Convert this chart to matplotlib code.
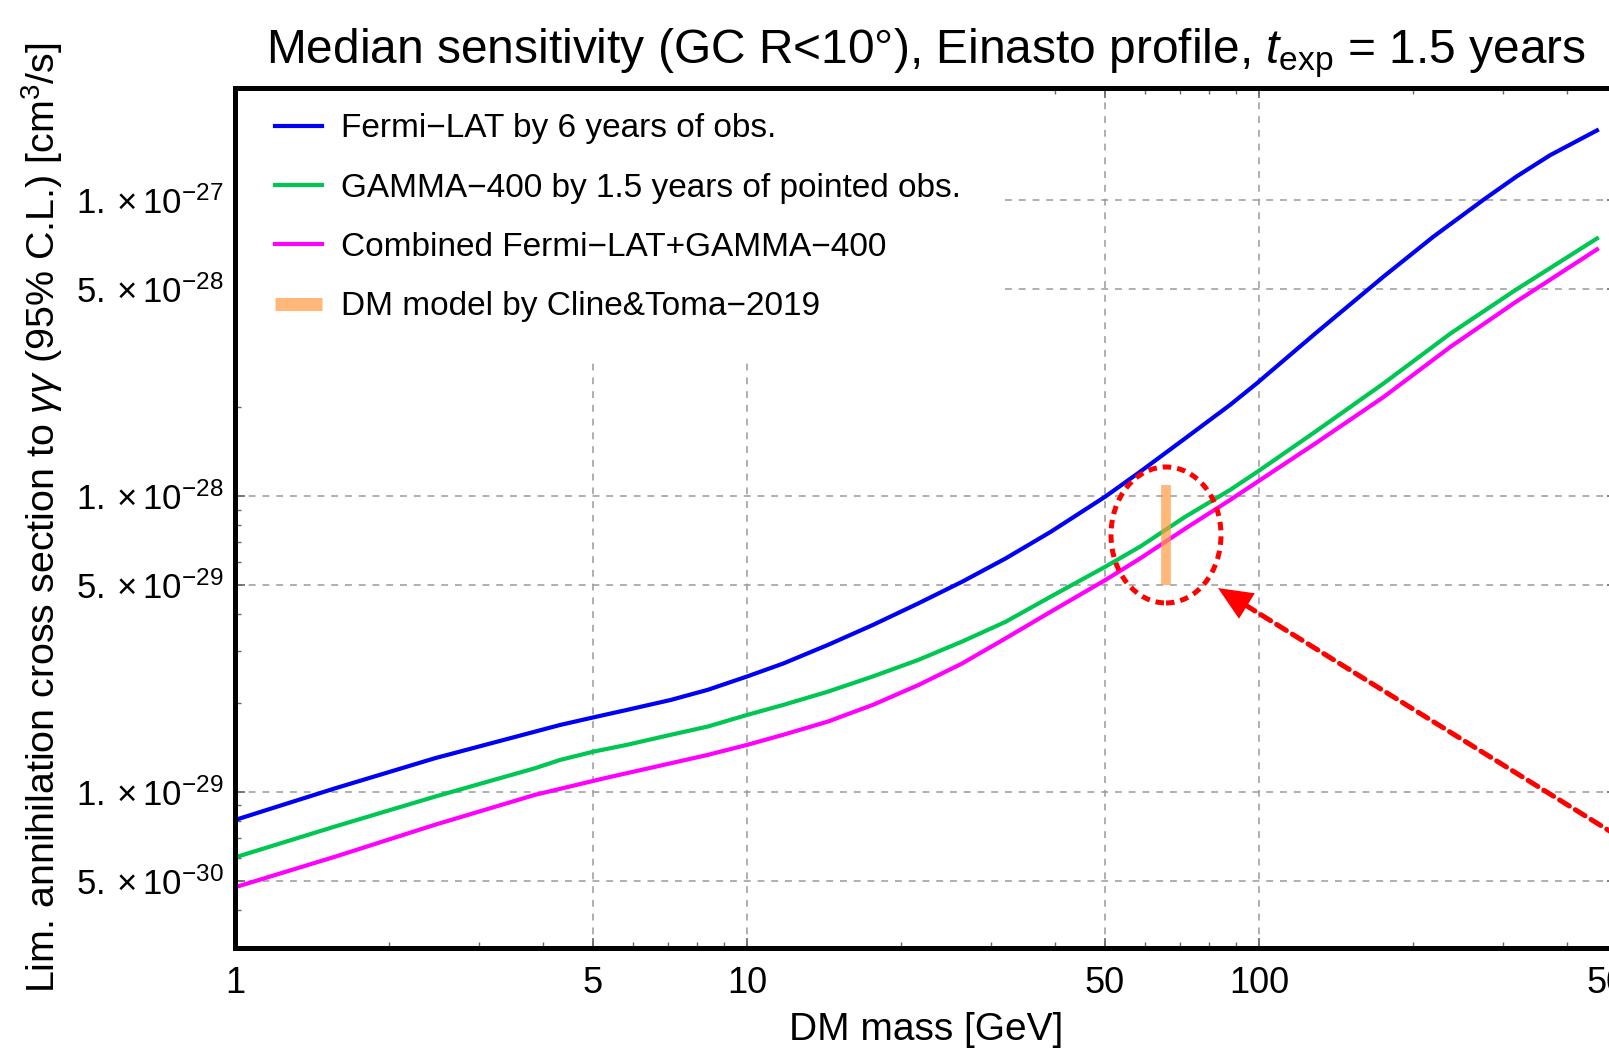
import numpy as np
import matplotlib
matplotlib.use("Agg")
import matplotlib.pyplot as plt
from matplotlib.patches import Ellipse
from matplotlib.ticker import LogLocator, NullFormatter
from matplotlib.transforms import ScaledTranslation, offset_copy

plt.rcParams['font.family'] = ['Liberation Sans', 'DejaVu Sans']
plt.rcParams['mathtext.fontset'] = 'custom'
plt.rcParams['mathtext.rm'] = 'Liberation Sans'
plt.rcParams['mathtext.it'] = 'Liberation Sans:italic'

# DM mass [GeV] and 95% C.L. limits [cm^3/s]
fermi_mass = [1.0, 1.567, 2.457, 4.31, 5.01, 5.82, 7.10, 8.38, 10.0, 11.77, 14.4, 17.6,
              21.6, 26.3, 32.0, 39.2, 50.1, 58.6, 71.8, 87.7, 98.9, 129.0, 175.0,
              219.0, 274.0, 318.0, 370.0, 457.0]
fermi_sigma = [8.04e-30, 1.028e-29, 1.300e-29, 1.683e-29, 1.786e-29, 1.892e-29, 2.046e-29,
               2.213e-29, 2.455e-29, 2.716e-29, 3.141e-29, 3.664e-29, 4.335e-29, 5.129e-29,
               6.152e-29, 7.568e-29, 9.954e-29, 1.208e-28, 1.567e-28, 2.028e-28, 2.399e-28,
               3.548e-28, 5.508e-28, 7.516e-28, 1.000e-27, 1.199e-27, 1.416e-27, 1.718e-27]

gamma_mass = [1.0, 1.567, 2.457, 3.85, 4.31, 5.01, 5.82, 7.10, 8.38, 10.0, 11.77, 14.4,
              17.6, 21.6, 26.3, 32.0, 39.2, 50.1, 58.6, 71.8, 87.7, 100.5, 129.0, 175.0,
              237.0, 317.0, 457.0]
gamma_sigma = [6.01e-30, 7.64e-30, 9.64e-30, 1.202e-29, 1.282e-29, 1.368e-29, 1.442e-29,
               1.560e-29, 1.663e-29, 1.820e-29, 1.968e-29, 2.183e-29, 2.455e-29, 2.793e-29,
               3.221e-29, 3.758e-29, 4.571e-29, 5.768e-29, 6.745e-29, 8.511e-29, 1.047e-28,
               1.225e-28, 1.652e-28, 2.399e-28, 3.548e-28, 4.966e-28, 7.413e-28]

combined_mass = [1.0, 1.567, 2.457, 3.85, 5.26, 7.10, 8.38, 10.0, 11.77, 14.4, 17.6, 21.6,
                 26.3, 32.0, 39.2, 50.1, 58.6, 71.8, 87.7, 100.5, 129.0, 175.0, 237.0,
                 317.0, 457.0]
combined_sigma = [4.764e-30, 6.039e-30, 7.745e-30, 9.772e-30, 1.112e-29, 1.250e-29, 1.334e-29,
                  1.442e-29, 1.560e-29, 1.730e-29, 1.968e-29, 2.296e-29, 2.716e-29, 3.304e-29,
                  4.064e-29, 5.200e-29, 6.152e-29, 7.762e-29, 9.683e-29, 1.132e-28, 1.507e-28,
                  2.158e-28, 3.199e-28, 4.519e-28, 6.808e-28]

# Cline & Toma 2019 model
model_mass = 65.8
model_range = [5.0e-29, 1.09e-28]

x_ticks = [1, 5, 10, 50, 100, 500]
x_labels = ['1', '5', '10', '50', '100', '500']
y_ticks = [5e-30, 1e-29, 5e-29, 1e-28, 5e-28, 1e-27]
y_labels = [r'$5.\times10^{-30}$', r'$1.\times10^{-29}$', r'$5.\times10^{-29}$',
            r'$1.\times10^{-28}$', r'$5.\times10^{-28}$', r'$1.\times10^{-27}$']

fig = plt.figure(figsize=(16.09, 10.51), dpi=100)
ax = fig.add_axes([0.14605, 0.0980, 0.8589, 0.8183])

ax.plot(fermi_mass, fermi_sigma, color='#0000F5', lw=3, label='Fermi\u2212LAT by 6 years of obs.')
ax.plot(gamma_mass, gamma_sigma, color='#00C652', lw=3, label='GAMMA\u2212400 by 1.5 years of pointed obs.')
ax.plot(combined_mass, combined_sigma, color='#FF00FF', lw=3, label='Combined Fermi\u2212LAT+GAMMA\u2212400')
ax.plot([model_mass, model_mass], model_range, color='#FF9A40', alpha=0.7, lw=7,
        solid_capstyle='butt', label='DM model by Cline&Toma\u22122019')

ax.set_xscale('log')
ax.set_yscale('log')
ax.set_xlim(1, 500)
ax.set_ylim(2.97e-30, 2.39e-27)

ax.set_xticks(x_ticks, labels=x_labels)
ax.set_yticks(y_ticks, labels=y_labels)
ax.xaxis.set_minor_locator(LogLocator(base=10, subs=np.arange(2, 10)))
ax.yaxis.set_minor_locator(LogLocator(base=10, subs=np.arange(2, 10)))
ax.xaxis.set_minor_formatter(NullFormatter())
ax.yaxis.set_minor_formatter(NullFormatter())
ax.tick_params(which='both', direction='in', top=True, right=True, color='#666666')
ax.tick_params(which='major', length=7, width=1.2)
ax.tick_params(which='minor', length=4, width=1)
ax.tick_params(axis='x', labelsize=26, pad=13)
ax.tick_params(axis='y', labelsize=25, pad=8)

ax.grid(True, which='major', color='#9a9a9a', lw=1.1, ls=(0, (4.5, 4.5)))
for s in ax.spines.values():
    s.set_linewidth(3.6)

ax.set_title(r'Median sensitivity (GC R<10°), Einasto profile, $t_{\mathrm{exp}}$ = 1.5 years',
             fontsize=34.5, pad=18)
ax.set_xlabel('DM mass [GeV]', fontsize=28, labelpad=8)
ax.set_ylabel(r'Lim. annihilation cross section to $\gamma\gamma$ (95% C.L.) [cm$^3$/s]',
              fontsize=28.4, labelpad=8)

leg = ax.legend(loc='upper left', bbox_to_anchor=(0, 1.017), borderaxespad=0, fontsize=24,
                frameon=True, facecolor='white', edgecolor='none', framealpha=1,
                fancybox=False, borderpad=1.2, labelspacing=0.85,
                handlelength=1.4, handletextpad=0.57)
leg.get_lines()[3].set_linewidth(9.4)
leg.get_lines()[3].set_alpha(0.7)
leg.set_zorder(2.4)

# red dashed circle round the model and the arrow pointing at it
centre = np.sqrt(model_range[0] * model_range[1])
ring = Ellipse((0, 0), width=1.10, height=1.36, fill=False, ec='red', lw=3.6,
               ls=(0, (1.7, 1.2)), zorder=6,
               transform=fig.dpi_scale_trans + ScaledTranslation(model_mass, centre, ax.transData))
ax.add_patch(ring)

tip = offset_copy(ax.transData, fig=fig, x=52, y=-3, units='dots')
ax.annotate('', xy=(model_mass, model_range[0]), xycoords=tip,
            xytext=(540, -335), textcoords='offset pixels',
            arrowprops=dict(arrowstyle='-', color='red', lw=3.6, ls=(0, (2.3, 1.4)),
                            shrinkA=0, shrinkB=22), annotation_clip=False)
ax.annotate('', xy=(model_mass, model_range[0]), xycoords=tip,
            xytext=(29, -18.0), textcoords='offset pixels',
            arrowprops=dict(arrowstyle='-|>,head_length=2.45,head_width=1.08',
                            color='red', lw=0, shrinkA=0, shrinkB=0), annotation_clip=False)

fig.savefig('out.png', dpi=100)
